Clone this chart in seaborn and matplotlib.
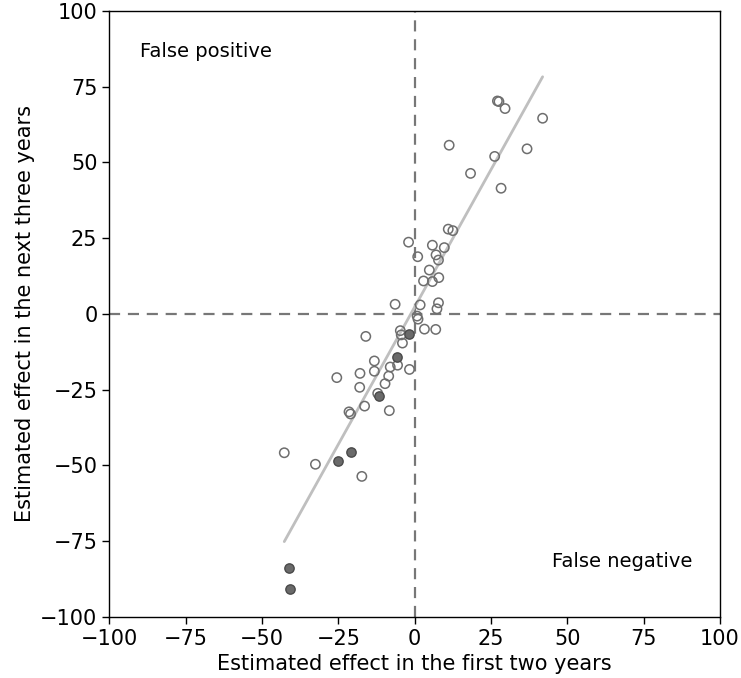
import numpy as np
import pandas as pd
import matplotlib
matplotlib.use("Agg")
import matplotlib.pyplot as plt
import seaborn as sns

# Open (non-significant) estimates
open_x = [27.1, 27.6, 29.6, 41.9, 11.3, 36.8, 26.2, 18.3, 28.3, -2.0,
          11.0, 12.5, 5.8, 9.7, 1.0, 7.0, 7.8, 4.8, 7.9, 2.9,
          5.8, -6.4, 1.8, 7.8, 7.3, 0.8, 1.1, 3.2, 6.9, -4.7,
          -4.4, -4.0, -16.0, -13.2, -13.2, -8.0, -5.6, -1.7, -25.5, -17.9,
          -8.5, -9.7, -18.0, -12.1, -16.4, -8.3, -21.5, -21.0, -42.7, -32.5,
          -17.3]
open_y = [70.3, 70.1, 67.8, 64.6, 55.7, 54.5, 52.0, 46.4, 41.5, 23.7,
          28.0, 27.5, 22.7, 21.9, 18.9, 19.5, 17.8, 14.5, 12.0, 10.9,
          10.7, 3.2, 3.0, 3.7, 1.7, -0.7, -1.7, -5.0, -5.1, -5.5,
          -6.9, -9.6, -7.4, -15.5, -18.9, -17.5, -16.9, -18.3, -21.0, -19.6,
          -20.5, -23.0, -24.2, -26.2, -30.4, -31.9, -32.3, -33.0, -45.8, -49.6,
          -53.6]

# Filled (significant) estimates
filled_x = [-1.8, -5.8, -11.7, -25.2, -20.8, -41.1, -40.7]
filled_y = [-6.6, -14.1, -27.1, -48.4, -45.6, -83.7, -90.9]

ticks = [-100, -75, -50, -25, 0, 25, 50, 75, 100]

sns.set_style("white")
plt.rcParams["font.family"] = ["DejaVu Sans"]
plt.rcParams["text.color"] = "black"
plt.rcParams["axes.labelcolor"] = "black"
plt.rcParams["xtick.color"] = "black"
plt.rcParams["ytick.color"] = "black"

fig = plt.figure(figsize=(7.41, 6.78), dpi=100)
ax = fig.add_axes([0.1475, 0.09, 0.8242, 0.8938])

df_open = pd.DataFrame({"x": open_x, "y": open_y})
df_fill = pd.DataFrame({"x": filled_x, "y": filled_y})
df_all = pd.concat([df_open, df_fill], ignore_index=True)

ax.axhline(0, color="#777777", linestyle=(0, (5, 3.5)), linewidth=1.6, zorder=1)
ax.axvline(0, color="#777777", linestyle=(0, (5, 3.5)), linewidth=1.6, zorder=1)

sns.regplot(data=df_all, x="x", y="y", ax=ax, scatter=False, ci=None,
            truncate=True, color="#bfbfbf", line_kws={"linewidth": 2, "zorder": 2})

sns.scatterplot(data=df_open, x="x", y="y", ax=ax, s=45, facecolor="none",
                edgecolor="#6e6e6e", linewidth=1.1, zorder=3)
sns.scatterplot(data=df_fill, x="x", y="y", ax=ax, s=45, color="#6a6a6a",
                edgecolor="#4a4a4a", linewidth=1.0, zorder=4)

ax.set_xlim(-100, 100)
ax.set_ylim(-100, 100)
ax.set_xticks(ticks)
ax.set_yticks(ticks)
ax.tick_params(axis="both", labelsize=15, length=5, width=1, direction="out",
               left=True, bottom=True, color="black", labelcolor="black")
for s in ax.spines.values():
    s.set_color("black")
    s.set_linewidth(1)

ax.set_xlabel("Estimated effect in the first two years", fontsize=15, labelpad=4)
ax.set_ylabel("Estimated effect in the next three years", fontsize=15, labelpad=4)

ax.text(-90, 86.5, "False positive", fontsize=14, va="center", ha="left")
ax.text(45, -81.8, "False negative", fontsize=14, va="center", ha="left")

fig.savefig("out.png", dpi=100)
